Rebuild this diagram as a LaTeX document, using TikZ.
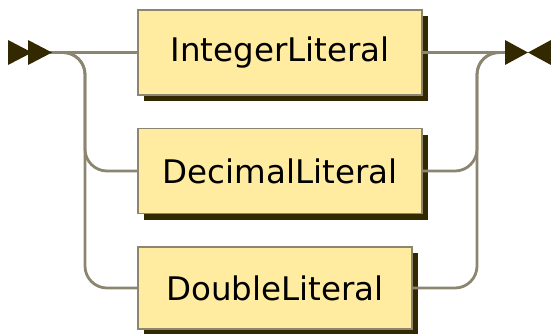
\documentclass[tikz,border=0pt]{standalone}
\usepackage{fontspec}
\setmainfont{DejaVu Sans}
\usetikzlibrary{shadows}
\definecolor{boxfill}{RGB}{255,236,160}
\definecolor{boxline}{RGB}{140,134,112}
\definecolor{shadowc}{RGB}{51,41,0}
\definecolor{connc}{RGB}{140,134,112}
\tikzset{
  rrbox/.style={draw=boxline, line width=1.2pt, fill=boxfill, inner sep=0pt,
    font=\fontsize{32.5}{36}\selectfont, text=black,
    drop shadow={shadow xshift=6pt, shadow yshift=-6pt, fill=shadowc, opacity=1}},
  conn/.style={draw=connc, line width=2.8pt, rounded corners=22pt},
  tip/.style={fill=shadowc, draw=none}
}
\begin{document}
\begin{tikzpicture}[x=1pt,y=-1pt]
\useasboundingbox (0,0) rectangle (551,333);
% boxes
\node[rrbox, minimum width=284pt, minimum height=85pt] (b1) at (280,52.5) {IntegerLiteral};
\node[rrbox, minimum width=284pt, minimum height=85pt] (b2) at (280,171) {DecimalLiteral};
\node[rrbox, minimum width=274pt, minimum height=82pt] (b3) at (275,288) {DoubleLiteral};
% coordinates
\coordinate (start) at (50,52.5);
\coordinate (endc) at (506,52.5);
\coordinate (lx) at (85,0);
\coordinate (rx) at (477,0);
% connectors
\draw[conn] (start) -- (b1.west);
\draw[conn] (start) -| (lx |- b2.west) -- (b2.west);
\draw[conn] (start) -| (lx |- b3.west) -- (b3.west);
\draw[conn] (b1.east) -- (endc);
\draw[conn] (b2.east) -| (rx |- endc) -- (endc);
\draw[conn] (b3.east) -| (rx |- endc) -- (endc);
% start arrows
\path[tip] (8,40) -- (32,52.5) -- (8,65) -- cycle;
\path[tip] (28,40) -- (52,52.5) -- (28,65) -- cycle;
% end arrows
\path[tip] (505,40) -- (528,52.5) -- (505,65) -- cycle;
\path[tip] (551,40) -- (528,52.5) -- (551,65) -- cycle;
\end{tikzpicture}
\end{document}
